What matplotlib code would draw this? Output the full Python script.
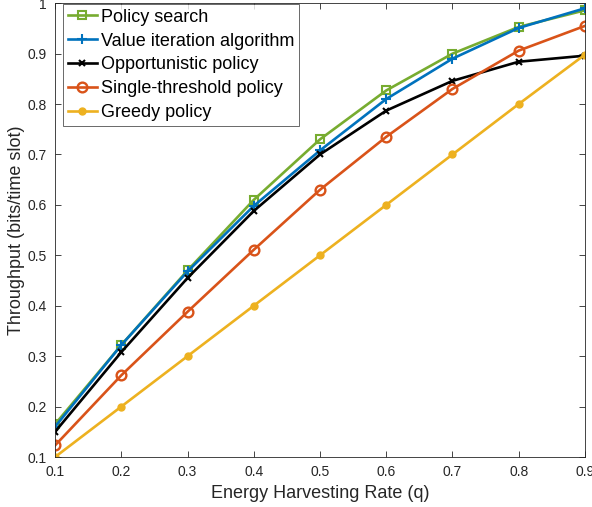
import numpy as np
import matplotlib
matplotlib.use("Agg")
import matplotlib.pyplot as plt

# Throughput vs energy harvesting rate for each policy
q = [0.1, 0.2, 0.3, 0.4, 0.5, 0.6, 0.7, 0.8, 0.9]
policy_search = [0.165, 0.322, 0.470, 0.610, 0.730, 0.827, 0.900, 0.953, 0.986]
value_iter    = [0.160, 0.322, 0.468, 0.598, 0.708, 0.810, 0.890, 0.951, 0.990]
opportunistic = [0.150, 0.308, 0.455, 0.588, 0.700, 0.787, 0.846, 0.884, 0.896]
single_thresh = [0.123, 0.262, 0.388, 0.511, 0.630, 0.735, 0.830, 0.906, 0.955]
greedy        = [0.100, 0.200, 0.300, 0.400, 0.500, 0.600, 0.700, 0.800, 0.898]

labels = ["Policy search", "Value iteration algorithm", "Opportunistic policy",
          "Single-threshold policy", "Greedy policy"]
xticks = [0.1, 0.2, 0.3, 0.4, 0.5, 0.6, 0.7, 0.8, 0.9]
yticks = [0.1, 0.2, 0.3, 0.4, 0.5, 0.6, 0.7, 0.8, 0.9, 1.0]

plt.rcParams['font.family'] = ['Liberation Sans', 'DejaVu Sans']

fig = plt.figure(figsize=(5.92, 5.07), dpi=100)
ax = fig.add_axes([0.093, 0.0986, 0.895, 0.895])

lw = 1.9
ax.plot(q, policy_search, color='#77AC30', lw=lw, marker='s', ms=5.5,
        mfc='none', mew=1.5, label=labels[0])
ax.plot(q, value_iter, color='#0072BD', lw=lw, marker='+', ms=7,
        mew=1.5, label=labels[1])
ax.plot(q, opportunistic, color='black', lw=lw, marker='x', ms=4.5,
        mew=1.5, label=labels[2])
ax.plot(q, single_thresh, color='#D95319', lw=lw, marker='o', ms=7,
        mfc='none', mew=1.7, label=labels[3])
ax.plot(q, greedy, color='#EDB120', lw=lw, marker='o', ms=5,
        label=labels[4])

ax.set_xlim(0.1, 0.9)
ax.set_ylim(0.1, 1.0)
ax.set_xticks(xticks)
ax.set_xticklabels([f"{v:g}" for v in xticks])
ax.set_yticks(yticks)
ax.set_yticklabels([f"{v:g}" for v in yticks])

ax.tick_params(direction='in', top=True, right=True, labelsize=10,
               colors='#262626', length=4, width=0.6, pad=6)
for s in ax.spines.values():
    s.set_color('#262626')
    s.set_linewidth(0.6)

ax.set_xlabel("Energy Harvesting Rate (q)", fontsize=13, color='#262626')
ax.set_ylabel("Throughput (bits/time slot)", fontsize=13, color='#262626',
              labelpad=2)

leg = ax.legend(loc='upper left', fontsize=13, frameon=True, fancybox=False,
                edgecolor='#262626', borderpad=0.25, labelspacing=0.38,
                handlelength=1.65, handletextpad=0.2, borderaxespad=0.0,
                bbox_to_anchor=(0.015, 0.998))
leg.get_frame().set_linewidth(0.6)

fig.savefig("out.png", dpi=100)
